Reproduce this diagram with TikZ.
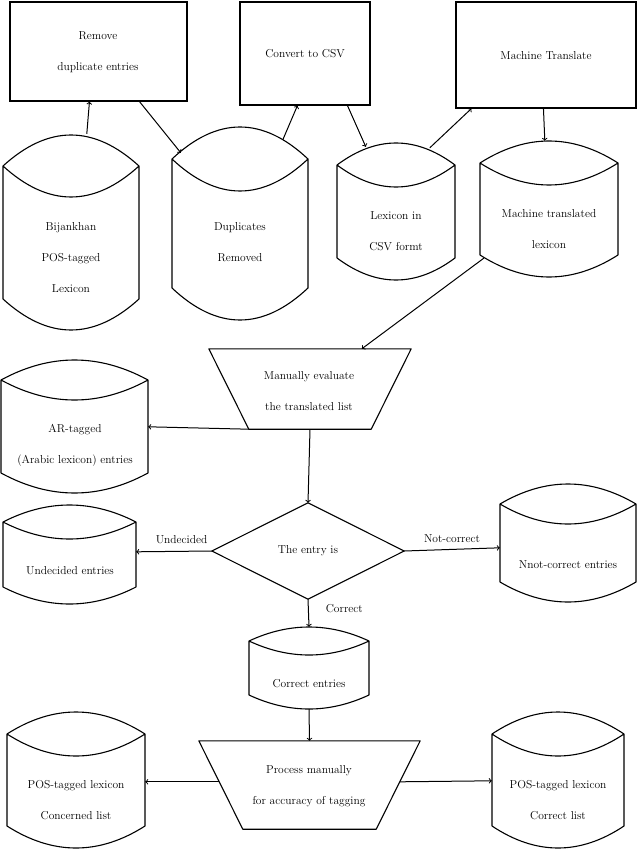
\documentclass[tikz,border=0pt]{standalone}
\usetikzlibrary{fit,calc}
\newcommand\mydrum[6]{%
  \node[fit={(#2,#4)(#3,#5)},inner sep=0pt] (#1) {};
  \draw[shp] (#2,{#4+#6}) .. controls ({#2+(#3-#2)/3},{#4-#6/3}) and ({#3-(#3-#2)/3},{#4-#6/3}) .. (#3,{#4+#6})
    .. controls ({#3-(#3-#2)/3},{#4+7*#6/3}) and ({#2+(#3-#2)/3},{#4+7*#6/3}) .. (#2,{#4+#6})
    -- (#2,{#5-#6}) .. controls ({#2+(#3-#2)/3},{#5+#6/3}) and ({#3-(#3-#2)/3},{#5+#6/3}) .. (#3,{#5-#6})
    -- (#3,{#4+#6});
}
\begin{document}
\begin{tikzpicture}[x=1pt,y=-1pt,
  shp/.style={line width=1.1pt,line join=round},
  arr/.style={->,line width=1pt},
  txt/.style={align=center,inner sep=0pt,font=\fontsize{11.5}{31}\selectfont},
  lbl/.style={inner sep=0pt,font=\fontsize{11.5}{13}\selectfont},
  box/.style={draw,line width=1.1pt,inner sep=0pt}]
\useasboundingbox (0,0) rectangle (640,850);
% boxes
\node[box,fit={(10,2)(187,101)}] (b1) {};
\node[txt] (b1t) at (98,52) {Remove\\duplicate entries};
\node[box,fit={(240,2)(370,105)}] (b2) {};
\node[txt] (b2t) at (305,54) {Convert to CSV};
\node[box,fit={(456,2)(636,108)}] (b3) {};
\node[txt] (b3t) at (546,56) {Machine Translate};
% drums
\mydrum{c1}{3}{139}{135}{330}{31}
\node[txt] (c1t) at (71,258) {Bijankhan\\POS-tagged\\Lexicon};
\mydrum{c2}{172}{308}{127}{320}{32}
\node[txt] (c2t) at (240,242) {Duplicates\\Removed};
\mydrum{c3}{337}{455}{143}{280}{22}
\node[txt] (c3t) at (396,231) {Lexicon in\\CSV formt};
\mydrum{c4}{480}{618}{141}{277}{22}
\node[txt] (c4t) at (549,229) {Machine translated\\lexicon};
\mydrum{c5}{1}{148}{360}{493}{20}
\node[txt] (c5t) at (75,445) {AR-tagged\\(Arabic lexicon) entries};
\mydrum{c6}{3}{136}{505}{604}{17}
\node[txt] (c6t) at (70,571) {Undecided entries};
\mydrum{c7}{500}{636}{484}{602}{20}
\node[txt] (c7t) at (568,565) {Nnot-correct entries};
\mydrum{c8}{249}{369}{627}{709}{14}
\node[txt] (c8t) at (309,684) {Correct entries};
\mydrum{c9}{7}{145}{712}{848}{22}
\node[txt] (c9t) at (76,800) {POS-tagged lexicon\\Concerned list};
\mydrum{c10}{492}{624}{712}{848}{22}
\node[txt] (c10t) at (558,800) {POS-tagged lexicon\\Correct list};
% trapezia
\node[fit={(209,349)(411,429)},inner sep=0pt] (t1) {};
\draw[shp] (t1.north west) -- (t1.north east) -- ($(t1.south east)+(-40,0)$) -- ($(t1.south west)+(40,0)$) -- cycle;
\node[txt] (t1t) at (309,391) {Manually evaluate\\the translated list};
\node[fit={(199,741)(420,829)},inner sep=0pt] (t2) {};
\draw[shp] (t2.north west) -- (t2.north east) -- ($(t2.south east)+(-44,0)$) -- ($(t2.south west)+(44,0)$) -- cycle;
\node[txt] (t2t) at (309,786) {Process manually\\for accuracy of tagging};
% diamond
\node[fit={(212,503)(404,599)},inner sep=0pt] (d) {};
\draw[shp] (d.north) -- (d.east) -- (d.south) -- (d.west) -- cycle;
\node[txt] (dt) at (d.center) {The entry is};
% arrows
\draw[arr] ($(c1.north west)+(84,-1)$) -- ($(b1.south west)+(80,0)$);
\draw[arr] ($(b1.south west)+(130,0)$) -- ($(c2.north west)+(9,26)$);
\draw[arr] ($(c2.north west)+(111,13)$) -- ($(b2.south west)+(58,0)$);
\draw[arr] ($(b2.south west)+(108,0)$) -- ($(c3.north west)+(29,4)$);
\draw[arr] ($(c3.north west)+(93,5)$) -- ($(b3.south west)+(16,0)$);
\draw[arr] ($(b3.south west)+(88,0)$) -- ($(c4.north west)+(65,0)$);
\draw[arr] ($(c4.south west)+(4,-19)$) -- ($(t1.north west)+(153,0)$);
\draw[arr] ($(t1.south west)+(40,0)$) -- ($(c5.north east)+(0,67)$);
\draw[arr] (t1.south) -- (d.north);
\draw[arr] (d.west) -- ($(c6.north east)+(0,47)$) node[lbl,pos=0.4,above=7pt] (lu) {Undecided};
\draw[arr] (d.east) -- ($(c7.north west)+(0,64)$) node[lbl,pos=0.5,above=6pt] (ln) {Not-correct};
\draw[arr] (d.south) -- (c8.north) node[lbl,pos=0.35,right=17pt] (lc) {Correct};
\draw[arr] (c8.south) -- (t2.north);
\draw[arr] ($(t2.north west)+(20,41)$) -- ($(c9.north east)+(0,70)$);
\draw[arr] ($(t2.north east)+(-20,41)$) -- ($(c10.north west)+(0,69)$);
\end{tikzpicture}
\end{document}
